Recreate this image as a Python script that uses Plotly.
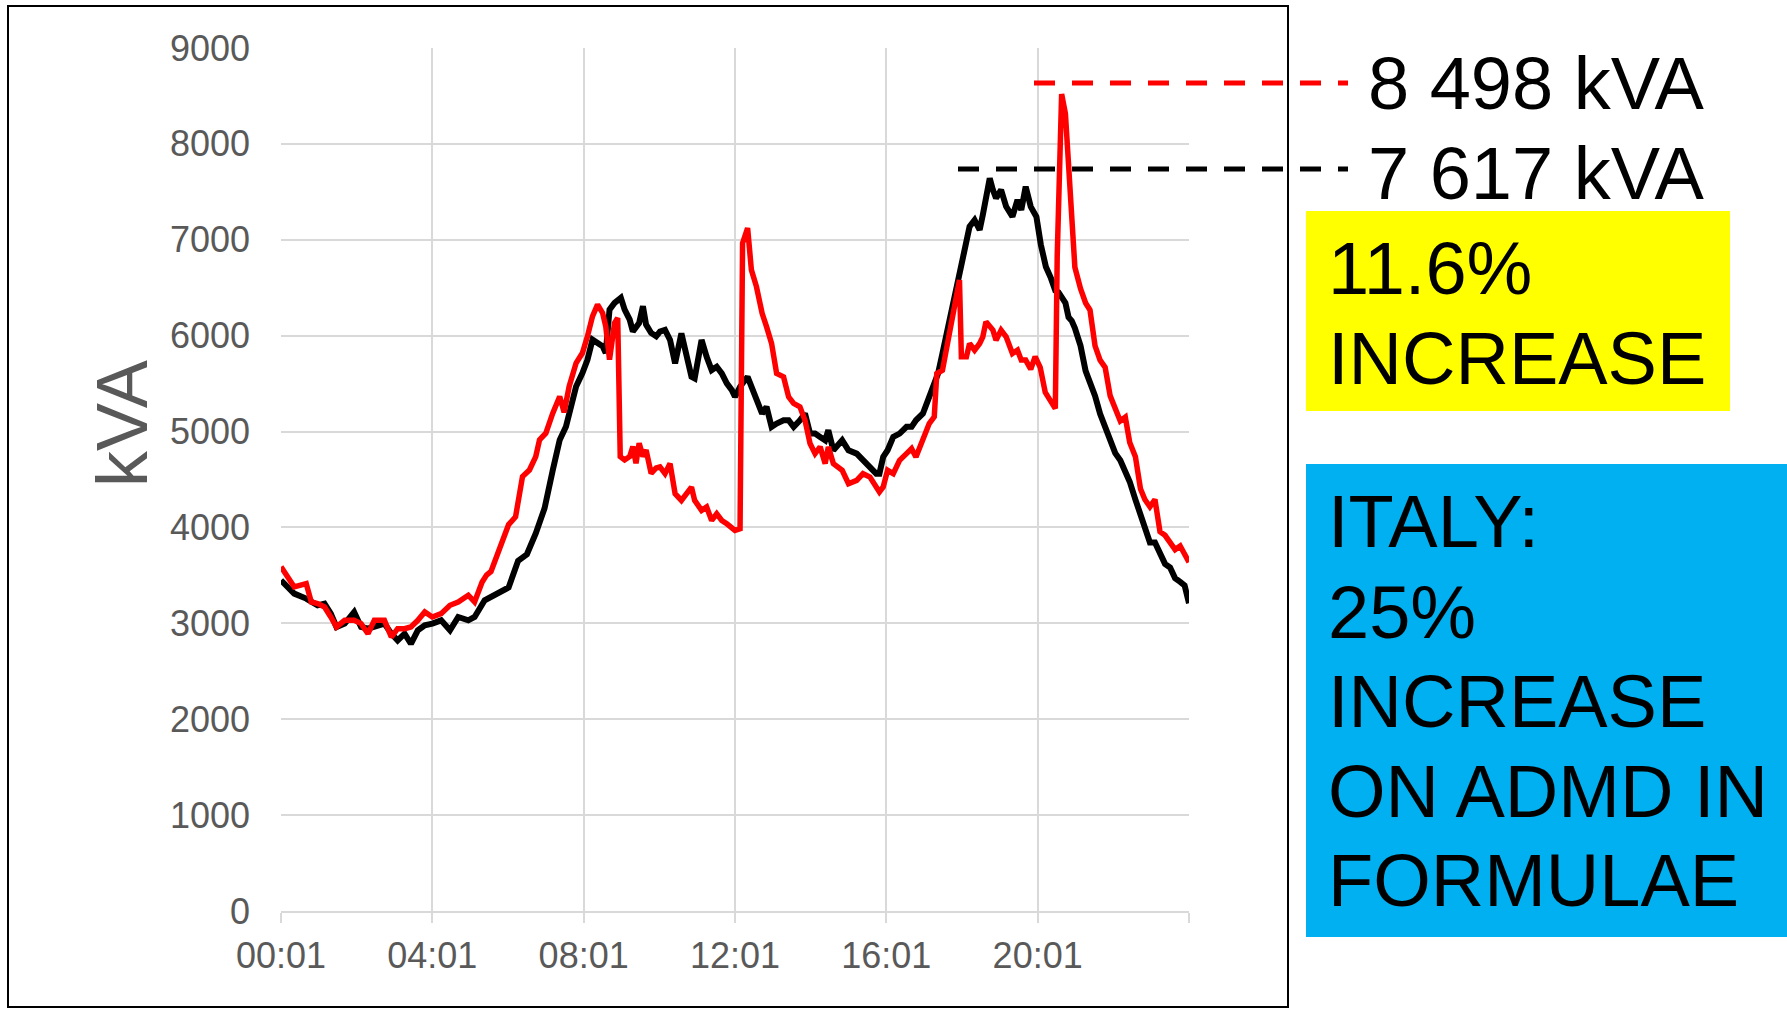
import plotly.graph_objects as go

# ---------------- data ----------------
# minutes elapsed since 00:01
minutes_before = [0, 11, 21, 40, 48, 58, 69, 79, 88, 101, 116, 127, 138, 148, 164, 175, 185, 196, 206, 217,
                  228, 240, 254, 268, 281, 297, 307, 323, 337, 347, 361, 376, 390, 404, 418, 431, 442, 452, 457, 468,
                  478, 486, 494, 502, 510, 515, 521, 529, 539, 545, 553, 558, 563, 568, 574, 579, 587, 595, 601, 609,
                  617, 625, 635, 643, 651, 656, 667, 675, 683, 691, 699, 707, 715, 720, 728, 740, 746, 754, 763, 770,
                  778, 786, 797, 805, 813, 823, 831, 839, 847, 855, 863, 868, 876, 890, 900, 913, 924, 935, 944, 949,
                  955, 962, 971, 981, 992, 1000, 1007, 1018, 1028, 1036, 1042, 1049, 1058, 1066, 1073, 1081, 1087, 1092, 1100, 1108,
                  1113, 1118, 1124, 1129, 1134, 1142, 1150, 1160, 1168, 1174, 1181, 1189, 1198, 1205, 1213, 1221, 1228, 1233, 1244, 1249,
                  1254, 1259, 1268, 1276, 1283, 1291, 1299, 1307, 1315, 1323, 1331, 1339, 1346, 1355, 1363, 1370, 1378, 1386, 1394, 1402,
                  1410, 1418, 1426, 1433, 1440]
kva_before = [3449, 3380, 3310, 3258, 3223, 3188, 3206, 3101, 2962, 2997, 3118, 2962, 2944, 2962, 2997, 2892, 2822, 2892, 2787, 2927,
              2979, 2997, 3031, 2927, 3066, 3031, 3066, 3240, 3293, 3337, 3374, 3652, 3720, 3937, 4200, 4599, 4913, 5052, 5192, 5470,
              5610, 5749, 5958, 5923, 5889, 5819, 6272, 6341, 6394, 6272, 6167, 6045, 6080, 6132, 6307, 6115, 6028, 5993, 6042, 6059,
              5955, 5711, 6024, 5780, 5571, 5554, 5955, 5780, 5641, 5676, 5606, 5502, 5432, 5362, 5467, 5571, 5467, 5328, 5188, 5258,
              5049, 5084, 5118, 5118, 5049, 5118, 5188, 4979, 4979, 4944, 4909, 5014, 4805, 4909, 4805, 4770, 4700, 4631, 4561, 4561,
              4735, 4805, 4944, 4979, 5049, 5049, 5118, 5188, 5362, 5466, 5605, 5814, 6093, 6336, 6580, 6858, 6998, 7137, 7206, 7102,
              7259, 7450, 7640, 7520, 7433, 7520, 7346, 7241, 7415, 7311, 7554, 7346, 7241, 6950, 6719, 6600, 6470, 6453, 6341, 6192,
              6155, 6080, 5894, 5633, 5521, 5372, 5186, 5036, 4925, 4775, 4701, 4589, 4477, 4291, 4142, 4030, 3843, 3843, 3732, 3620,
              3583, 3470, 3433, 3396, 3210]

minutes_after = [0, 11, 21, 40, 48, 58, 69, 79, 88, 101, 116, 127, 138, 148, 164, 175, 185, 196, 206, 217,
                 228, 240, 254, 268, 281, 297, 307, 319, 326, 333, 344, 351, 361, 372, 383, 394, 404, 410, 420, 431,
                 442, 449, 457, 468, 478, 486, 494, 502, 510, 515, 521, 529, 534, 538, 545, 553, 558, 563, 568, 574,
                 579, 587, 595, 601, 609, 617, 625, 635, 643, 651, 656, 667, 675, 683, 691, 699, 707, 715, 720, 728,
                 732, 740, 746, 754, 763, 770, 778, 786, 797, 805, 813, 823, 831, 839, 847, 855, 863, 868, 876, 890,
                 900, 913, 923, 934, 944, 949, 955, 962, 971, 981, 992, 1000, 1007, 1018, 1028, 1036, 1040, 1049, 1058, 1066,
                 1073, 1076, 1079, 1087, 1092, 1100, 1108, 1113, 1118, 1124, 1129, 1134, 1142, 1150, 1160, 1168, 1174, 1181, 1189, 1196,
                 1204, 1212, 1220, 1228, 1231, 1236, 1238, 1244, 1249, 1254, 1259, 1268, 1276, 1283, 1291, 1299, 1307, 1315, 1323, 1331,
                 1339, 1346, 1355, 1363, 1370, 1378, 1386, 1394, 1402, 1410, 1418, 1426, 1433, 1440]
kva_after = [3589, 3484, 3380, 3415, 3223, 3206, 3171, 3066, 2962, 3031, 3031, 2997, 2892, 3031, 3031, 2857, 2944, 2944, 2962, 3031,
             3118, 3066, 3101, 3188, 3223, 3293, 3223, 3430, 3504, 3541, 3726, 3880, 4030, 4111, 4530, 4599, 4739, 4913, 4983, 5192,
             5366, 5200, 5470, 5714, 5819, 5993, 6202, 6324, 6237, 6098, 5749, 6132, 6185, 4739, 4704, 4739, 4843, 4669, 4878, 4739,
             4808, 4564, 4620, 4631, 4561, 4666, 4352, 4282, 4352, 4421, 4282, 4178, 4213, 4073, 4143, 4073, 4038, 4003, 3969, 3986,
             6965, 7122, 6686, 6512, 6233, 6094, 5920, 5606, 5571, 5362, 5293, 5258, 5118, 4875, 4770, 4840, 4666, 4840, 4666, 4596,
             4456, 4491, 4561, 4526, 4422, 4370, 4422, 4596, 4561, 4700, 4770, 4822, 4735, 4909, 5083, 5153, 5605, 5640, 5953, 6232,
             6406, 6580, 5779, 5779, 5918, 5849, 5918, 5988, 6145, 6093, 6058, 5953, 6058, 5988, 5814, 5849, 5745, 5745, 5650, 5782,
             5670, 5409, 5334, 5241, 6826, 8130, 8520, 8317, 7758, 7199, 6714, 6490, 6341, 6267, 5894, 5745, 5670, 5372, 5223, 5111,
             5150, 4887, 4738, 4403, 4291, 4216, 4291, 3955, 3918, 3843, 3769, 3806, 3732, 3638]

tick_minutes = [0, 240, 480, 720, 960, 1200, 1440]
tick_labels = ["00:01", "04:01", "08:01", "12:01", "16:01", "20:01", ""]
y_ticks = [0, 1000, 2000, 3000, 4000, 5000, 6000, 7000, 8000, 9000]

peak_after_label = "8 498 kVA"
peak_before_label = "7 617 kVA"
yellow_lines = ["11.6%", "INCREASE"]
blue_lines = ["ITALY:", "25%", "INCREASE", "ON ADMD IN", "FORMULAE"]

# ---------------- layout helpers (pixel -> paper) ----------------
W_FIG, H_FIG = 1787, 1009
L, R, T, B = 281, 1189, 48, 911
PW, PH = R - L, B - T


def px(x):
    return (x - L) / PW


def py(y):
    return (B - y) / PH


FONT = "Liberation Sans, Arial, sans-serif"
GREY = "#595959"
GRID = "#D9D9D9"

fig = go.Figure()
fig.add_trace(go.Scatter(x=minutes_before, y=kva_before, mode="lines",
                         line=dict(color="#000000", width=6), showlegend=False))
fig.add_trace(go.Scatter(x=minutes_after, y=kva_after, mode="lines",
                         line=dict(color="#FF0000", width=5.5), showlegend=False))

shapes = [
    # chart border
    dict(type="rect", xref="paper", yref="paper", x0=px(8), x1=px(1288), y0=py(1007), y1=py(6),
         line=dict(color="#000000", width=2), fillcolor="rgba(0,0,0,0)"),
    # peak dashed lines
    dict(type="line", xref="paper", yref="paper", x0=px(1034), x1=px(1348), y0=py(83), y1=py(83),
         line=dict(color="#FF0000", width=5, dash="21px,17px")),
    dict(type="line", xref="paper", yref="paper", x0=px(958), x1=px(1348), y0=py(169), y1=py(169),
         line=dict(color="#000000", width=5, dash="21px,17px")),
    # coloured boxes
    dict(type="rect", xref="paper", yref="paper", x0=px(1306), x1=px(1730), y0=py(411), y1=py(211),
         line=dict(width=0), fillcolor="#FFFF00"),
    dict(type="rect", xref="paper", yref="paper", x0=px(1306), x1=px(1800), y0=py(937), y1=py(464),
         line=dict(width=0), fillcolor="#00B0F0"),
]

BIG = 74
annotations = [
    dict(text="kVA", xref="paper", yref="paper", x=px(122), y=py(424), textangle=-90,
         showarrow=False, xanchor="center", yanchor="middle", font=dict(family=FONT, size=72, color=GREY)),
    dict(text=peak_after_label, xref="paper", yref="paper", x=px(1366), y=py(84),
         showarrow=False, xanchor="left", yanchor="middle", font=dict(family=FONT, size=BIG, color="#000000")),
    dict(text=peak_before_label, xref="paper", yref="paper", x=px(1366), y=py(173),
         showarrow=False, xanchor="left", yanchor="middle", font=dict(family=FONT, size=BIG, color="#000000")),
]
for txt, yc in zip(yellow_lines, [268, 358]):
    annotations.append(dict(text=txt, xref="paper", yref="paper", x=px(1326), y=py(yc),
                            showarrow=False, xanchor="left", yanchor="middle",
                            font=dict(family=FONT, size=BIG, color="#000000")))
for txt, yc in zip(blue_lines, [521, 612, 701, 791, 880]):
    annotations.append(dict(text=txt, xref="paper", yref="paper", x=px(1326), y=py(yc),
                            showarrow=False, xanchor="left", yanchor="middle",
                            font=dict(family=FONT, size=BIG, color="#000000")))

fig.update_layout(
    width=W_FIG, height=H_FIG,
    margin=dict(l=L, r=W_FIG - R, t=T, b=H_FIG - B, pad=0),
    paper_bgcolor="#FFFFFF", plot_bgcolor="#FFFFFF",
    shapes=shapes, annotations=annotations,
    font=dict(family=FONT, color=GREY),
)
fig.update_xaxes(range=[0, 1440], tickmode="array", tickvals=tick_minutes, ticktext=tick_labels,
                 showgrid=True, gridcolor=GRID, gridwidth=1.5,
                 showline=True, linecolor=GRID, linewidth=1.5,
                 ticks="outside", ticklen=10, tickcolor=GRID, tickwidth=1.5,
                 tickfont=dict(family=FONT, size=36, color=GREY), zeroline=False,
                 ticklabelstandoff=2)
fig.update_yaxes(range=[0, 9000], tickmode="array", tickvals=y_ticks,
                 showgrid=True, gridcolor=GRID, gridwidth=1.5, showline=False, zeroline=False,
                 ticks="", tickfont=dict(family=FONT, size=36, color=GREY),
                 ticklabelstandoff=30)

fig.write_html("out.html")
